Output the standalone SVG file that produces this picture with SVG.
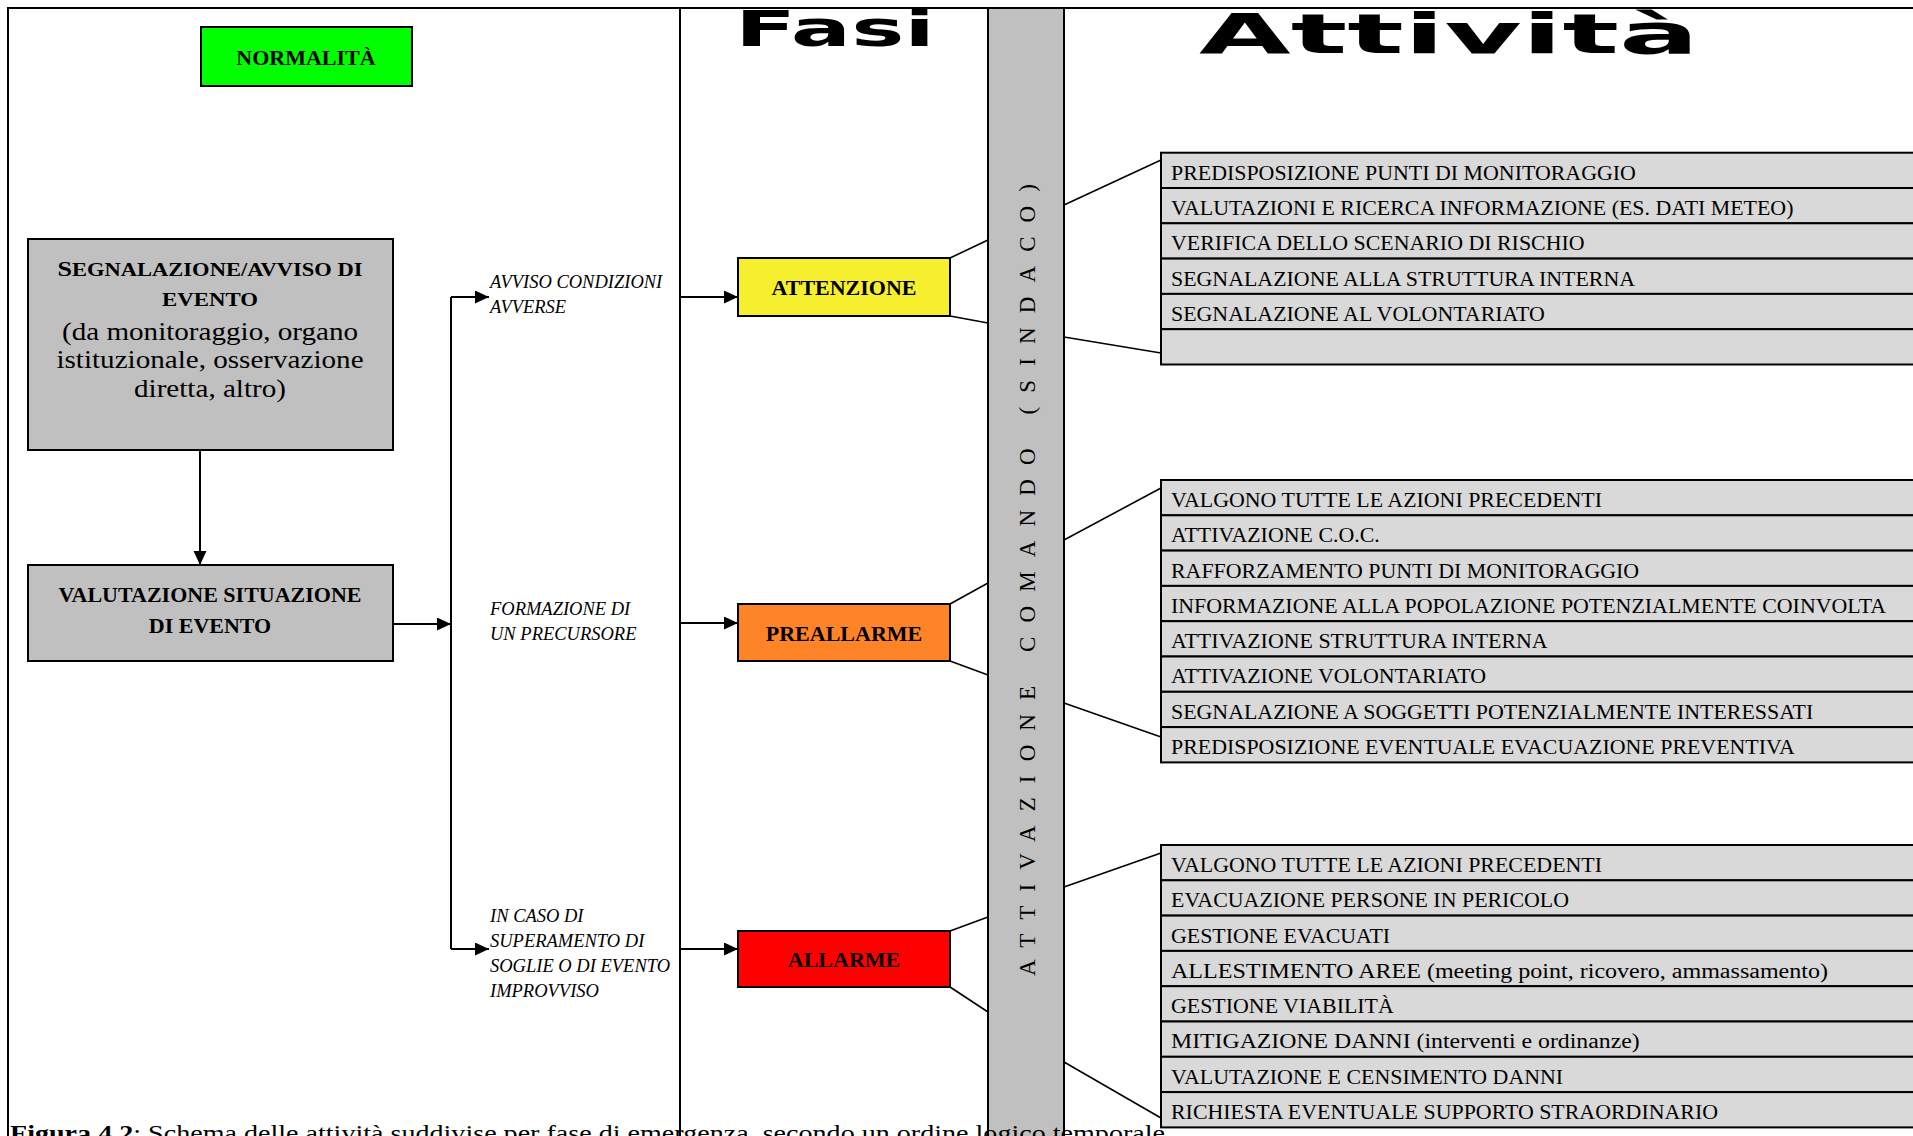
<svg xmlns="http://www.w3.org/2000/svg" width="1913" height="1136" viewBox="0 0 1913 1136">
<defs>
<style>
.t{font-family:'Liberation Serif','Times New Roman',serif;fill:#000}
.b{font-weight:bold}
.it{font-style:italic;font-size:18.5px}
.box{stroke:#000;stroke-width:2}
.row{fill:#d9d9d9;stroke:#000;stroke-width:2}
.rt{font-size:20px}
.conn{stroke:#000;stroke-width:1.6;fill:none}
.arr{stroke:#000;stroke-width:2;fill:none;marker-end:url(#ah)}
.line{stroke:#000;stroke-width:2;fill:none}
.head{font-family:'DejaVu Sans',sans-serif;font-weight:bold;fill:#000}
</style>
<marker id="ah" markerUnits="userSpaceOnUse" markerWidth="15" markerHeight="14" refX="14" refY="6.5" orient="auto">
<path d="M0,0 L14,6.5 L0,13 z" fill="#000"/>
</marker>
</defs>
<rect x="0" y="0" width="1913" height="1136" fill="#fff"/>

<g id="frame">
<rect x="988" y="8" width="76" height="1140" fill="#c0c0c0" stroke="#000" stroke-width="2"/>
<path class="line" d="M8,1136 L8,8 L1913,8"/>
<path class="line" d="M680,8 L680,1136"/>
</g>

<g id="titles">
<text class="head" x="735" y="46" font-size="50" textLength="200" lengthAdjust="spacingAndGlyphs">Fasi</text>
<text class="head" x="1199" y="53" font-size="55" textLength="500" lengthAdjust="spacingAndGlyphs">Attività</text>
</g>

<g id="comando">
<text class="t" transform="translate(1035 976) rotate(-90)" font-size="23" textLength="792" lengthAdjust="spacing">ATTIVAZIONE COMANDO (SINDACO)</text>
</g>

<g id="normalita">
<rect class="box" x="201" y="27" width="211" height="59" fill="#00ff00"/>
<text class="t b" x="306" y="65" font-size="22" text-anchor="middle">NORMALITÀ</text>
</g>

<g id="segnalazione">
<rect class="box" x="28" y="239" width="365" height="211" fill="#c0c0c0"/>
<text class="t b" x="210" y="276" text-anchor="middle" textLength="305" lengthAdjust="spacingAndGlyphs"><tspan font-size="22">S</tspan><tspan font-size="19">EGNALAZIONE/AVVISO DI</tspan></text>
<text class="t b" x="210" y="306" font-size="19" text-anchor="middle" textLength="96" lengthAdjust="spacingAndGlyphs">EVENTO</text>
<text class="t" transform="translate(210 340) scale(1.12 1)" font-size="26" text-anchor="middle">(da monitoraggio, organo</text>
<text class="t" transform="translate(210 368) scale(1.12 1)" font-size="26" text-anchor="middle">istituzionale, osservazione</text>
<text class="t" transform="translate(210 397) scale(1.12 1)" font-size="26" text-anchor="middle">diretta, altro)</text>
</g>

<g id="valutazione">
<rect class="box" x="28" y="565" width="365" height="96" fill="#c0c0c0"/>
<text class="t b" x="210" y="602" font-size="22" text-anchor="middle">VALUTAZIONE SITUAZIONE</text>
<text class="t b" x="210" y="633" font-size="22" text-anchor="middle">DI EVENTO</text>
</g>

<g id="labels">
<text class="t it" x="490" y="288">AVVISO CONDIZIONI</text>
<text class="t it" x="490" y="313">AVVERSE</text>
<text class="t it" x="490" y="615">FORMAZIONE DI</text>
<text class="t it" x="490" y="640">UN PRECURSORE</text>
<text class="t it" x="490" y="922">IN CASO DI</text>
<text class="t it" x="490" y="947">SUPERAMENTO DI</text>
<text class="t it" x="490" y="972">SOGLIE O DI EVENTO</text>
<text class="t it" x="490" y="997">IMPROVVISO</text>
</g>

<g id="attenzione">
<rect class="box" x="738" y="258" width="212" height="58" fill="#f6ef2e"/>
<text class="t b" x="844" y="295" font-size="22" text-anchor="middle">ATTENZIONE</text>
</g>

<g id="preallarme">
<rect class="box" x="738" y="604" width="212" height="57" fill="#ff8427"/>
<text class="t b" x="844" y="641" font-size="22" text-anchor="middle">PREALLARME</text>
</g>

<g id="allarme">
<rect class="box" x="738" y="931" width="212" height="56" fill="#ff0000"/>
<text class="t b" x="844" y="967" font-size="22" text-anchor="middle">ALLARME</text>
</g>

<g id="attivita-attenzione">
<rect class="row" x="1161" y="152.7" width="800" height="35.3"/>
<rect class="row" x="1161" y="188" width="800" height="35.3"/>
<rect class="row" x="1161" y="223.3" width="800" height="35.3"/>
<rect class="row" x="1161" y="258.6" width="800" height="35.3"/>
<rect class="row" x="1161" y="293.9" width="800" height="35.3"/>
<rect class="row" x="1161" y="329.2" width="800" height="35.3"/>
<g transform="translate(1171 0) scale(1.095 1)">
<text class="t rt" x="0" y="179.7">PREDISPOSIZIONE PUNTI DI MONITORAGGIO</text>
<text class="t rt" x="0" y="215">VALUTAZIONI E RICERCA INFORMAZIONE (ES. DATI METEO)</text>
<text class="t rt" x="0" y="250.3">VERIFICA DELLO SCENARIO DI RISCHIO</text>
<text class="t rt" x="0" y="285.6">SEGNALAZIONE ALLA STRUTTURA INTERNA</text>
<text class="t rt" x="0" y="320.9">SEGNALAZIONE AL VOLONTARIATO</text>
</g>
</g>

<g id="attivita-preallarme">
<rect class="row" x="1161" y="480" width="800" height="35.3"/>
<rect class="row" x="1161" y="515.3" width="800" height="35.3"/>
<rect class="row" x="1161" y="550.6" width="800" height="35.3"/>
<rect class="row" x="1161" y="585.9" width="800" height="35.3"/>
<rect class="row" x="1161" y="621.2" width="800" height="35.3"/>
<rect class="row" x="1161" y="656.5" width="800" height="35.3"/>
<rect class="row" x="1161" y="691.8" width="800" height="35.3"/>
<rect class="row" x="1161" y="727.1" width="800" height="35.3"/>
<g transform="translate(1171 0) scale(1.095 1)">
<text class="t rt" x="0" y="507">VALGONO TUTTE LE AZIONI PRECEDENTI</text>
<text class="t rt" x="0" y="542.3">ATTIVAZIONE C.O.C.</text>
<text class="t rt" x="0" y="577.6">RAFFORZAMENTO PUNTI DI MONITORAGGIO</text>
<text class="t rt" x="0" y="612.9">INFORMAZIONE ALLA POPOLAZIONE POTENZIALMENTE COINVOLTA</text>
<text class="t rt" x="0" y="648.2">ATTIVAZIONE STRUTTURA INTERNA</text>
<text class="t rt" x="0" y="683.5">ATTIVAZIONE VOLONTARIATO</text>
<text class="t rt" x="0" y="718.8">SEGNALAZIONE A SOGGETTI POTENZIALMENTE INTERESSATI</text>
<text class="t rt" x="0" y="754.1">PREDISPOSIZIONE EVENTUALE EVACUAZIONE PREVENTIVA</text>
</g>
</g>

<g id="attivita-allarme">
<rect class="row" x="1161" y="845" width="800" height="35.3"/>
<rect class="row" x="1161" y="880.3" width="800" height="35.3"/>
<rect class="row" x="1161" y="915.6" width="800" height="35.3"/>
<rect class="row" x="1161" y="950.9" width="800" height="35.3"/>
<rect class="row" x="1161" y="986.2" width="800" height="35.3"/>
<rect class="row" x="1161" y="1021.5" width="800" height="35.3"/>
<rect class="row" x="1161" y="1056.8" width="800" height="35.3"/>
<rect class="row" x="1161" y="1092.1" width="800" height="35.3"/>
<g transform="translate(1171 0) scale(1.095 1)">
<text class="t rt" x="0" y="872">VALGONO TUTTE LE AZIONI PRECEDENTI</text>
<text class="t rt" x="0" y="907.3">EVACUAZIONE PERSONE IN PERICOLO</text>
<text class="t rt" x="0" y="942.6">GESTIONE EVACUATI</text>
<text class="t rt" x="0" y="977.9" textLength="600" lengthAdjust="spacingAndGlyphs">ALLESTIMENTO AREE (meeting point, ricovero, ammassamento)</text>
<text class="t rt" x="0" y="1013.2">GESTIONE VIABILITÀ</text>
<text class="t rt" x="0" y="1048.5" textLength="428" lengthAdjust="spacingAndGlyphs">MITIGAZIONE DANNI (interventi e ordinanze)</text>
<text class="t rt" x="0" y="1083.8">VALUTAZIONE E CENSIMENTO DANNI</text>
<text class="t rt" x="0" y="1119.1">RICHIESTA EVENTUALE SUPPORTO STRAORDINARIO</text>
</g>
</g>

<g id="connectors">
<path class="arr" d="M200,450 L200,565"/>
<path class="arr" d="M393,624 L451,624"/>
<path class="line" d="M451,297 L451,949"/>
<path class="arr" d="M451,297 L489,297"/>
<path class="arr" d="M451,949 L489,949"/>
<path class="arr" d="M680,297 L738,297"/>
<path class="arr" d="M680,623 L738,623"/>
<path class="arr" d="M680,949 L738,949"/>
<path class="conn" d="M950,258 L988,240 M950,316 L988,323"/>
<path class="conn" d="M950,604 L988,583 M950,661 L988,675"/>
<path class="conn" d="M950,931 L988,917 M950,987 L988,1012"/>
<path class="conn" d="M1064,205 L1161,160 M1064,337 L1161,353"/>
<path class="conn" d="M1064,540 L1161,488 M1064,703 L1161,737"/>
<path class="conn" d="M1064,887 L1161,853 M1064,1062 L1161,1118"/>
</g>

<g id="caption">
<text class="t" x="10" y="1141" font-size="23" textLength="1155" lengthAdjust="spacingAndGlyphs"><tspan font-weight="bold">Figura 4.2</tspan>: Schema delle attività suddivise per fase di emergenza, secondo un ordine logico temporale</text>
</g>
</svg>
